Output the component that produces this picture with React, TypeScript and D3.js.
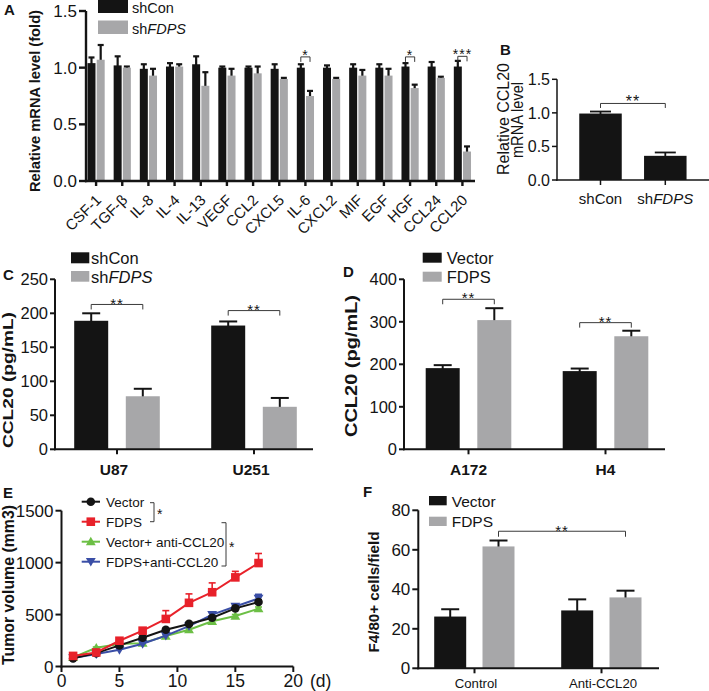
import React from 'react';
import * as d3 from 'd3';

const W = 709;
const H = 691;
const FONT = "'Liberation Sans', Arial, Helvetica, sans-serif";
const BLACK = '#141414';
const GRAY = '#a7a7a9';
const RED = '#e8212a';
const GREEN = '#6cbf45';
const BLUE = '#3a4ea6';
const LINE = '#3a3a3a';

// ---------- Panel A ----------
const aCategories = ['CSF-1', 'TGF-β', 'IL-8', 'IL-4', 'IL-13', 'VEGF', 'CCL2', 'CXCL5', 'IL-6', 'CXCL2', 'MIF', 'EGF', 'HGF', 'CCL24', 'CCL20'];
const aShCon = [1.04, 1.02, 0.99, 1.01, 1.03, 1.0, 1.0, 0.99, 1.0, 1.0, 1.0, 1.0, 1.01, 1.01, 1.01];
const aShConErr = [0.05, 0.08, 0.04, 0.03, 0.07, 0.01, 0.01, 0.04, 0.03, 0.02, 0.03, 0.03, 0.03, 0.04, 0.05];
const aShFDPS = [1.07, 1.0, 0.93, 1.01, 0.84, 0.93, 0.95, 0.9, 0.75, 0.9, 0.93, 0.93, 0.82, 0.91, 0.26];
const aShFDPSErr = [0.13, 0.01, 0.06, 0.02, 0.12, 0.06, 0.06, 0.01, 0.045, 0.01, 0.05, 0.06, 0.03, 0.01, 0.045];
const aTicks = [0, 0.5, 1.0, 1.5];
const aSignif = [
  { cat: 'IL-6', level: 1.095, label: '*' },
  { cat: 'HGF', level: 1.095, label: '*' },
  { cat: 'CCL20', level: 1.1, label: '***' },
];

// ---------- Panel B ----------
const bCategories = ['shCon', 'shFDPS'];
const bValues = [0.99, 0.36];
const bErrors = [0.03, 0.05];
const bTicks = [0, 0.5, 1.0, 1.5];
const bSignifLevel = 1.14;

// ---------- Panel C ----------
const cCategories = ['U87', 'U251'];
const cShCon = [189, 182];
const cShConErr = [11, 6];
const cShFDPS = [78, 62.5];
const cShFDPSErr = [11, 13];
const cTicks = [0, 50, 100, 150, 200, 250];
const cSignifLevels = [213, 204];

// ---------- Panel D ----------
const dCategories = ['A172', 'H4'];
const dVector = [191, 184];
const dVectorErr = [7, 6];
const dFDPS = [304, 266];
const dFDPSErr = [28, 13];
const dTicks = [0, 100, 200, 300, 400];
const dSignifLevels = [353, 298];

// ---------- Panel E ----------
const eDays = [1, 3, 5, 7, 9, 11, 13, 15, 17];
const eVector = [78, 129, 203, 277, 354, 410, 470, 560, 621];
const eVectorErr = [6, 8, 10, 12, 14, 15, 16, 18, 22];
const eFDPS = [102, 135, 248, 345, 458, 613, 715, 858, 996];
const eFDPSErr = [10, 12, 15, 20, 80, 86, 90, 58, 92];
const eVecAnti = [88, 180, 216, 225, 293, 354, 435, 486, 557];
const eVecAntiErr = [6, 8, 8, 10, 12, 12, 14, 15, 16];
const eFDPSAnti = [82, 120, 161, 219, 297, 389, 500, 578, 655];
const eFDPSAntiErr = [6, 8, 10, 10, 12, 14, 18, 20, 40];
const eXTicks = [0, 5, 10, 15, 20];
const eYTicks = [0, 500, 1000, 1500];
const eLegend = ['Vector', 'FDPS', 'Vector+ anti-CCL20', 'FDPS+anti-CCL20'];

// ---------- Panel F ----------
const fCategories = ['Control', 'Anti-CCL20'];
const fVector = [26.2, 29.3];
const fVectorErr = [3.7, 5.6];
const fFDPS = [61.7, 35.9];
const fFDPSErr = [3, 3.4];
const fTicks = [0, 20, 40, 60, 80];
const fSignifLevel = 69.4;

type Lin = d3.ScaleLinear<number, number>;

function YAxis({ y, ticks, x, fs, fmt, tickLen = 6, sw = 2 }: { y: Lin; ticks: number[]; x: number; fs: number; fmt: (v: number) => string; tickLen?: number; sw?: number }) {
  const [d0, d1] = y.domain();
  return (
    <g>
      <line x1={x} x2={x} y1={y(d0) + sw / 2} y2={y(d1)} stroke={BLACK} strokeWidth={sw} />
      {ticks.map((t) => (
        <g key={t}>
          <line x1={x - tickLen} x2={x} y1={y(t)} y2={y(t)} stroke={BLACK} strokeWidth={sw} />
          <text x={x - tickLen - 2} y={y(t)} dy="0.36em" textAnchor="end" fontSize={fs} fill={BLACK}>
            {fmt(t)}
          </text>
        </g>
      ))}
    </g>
  );
}

function XBase({ x0, x1, y0, ticks, tickLen = 5, sw = 2 }: { x0: number; x1: number; y0: number; ticks: number[]; tickLen?: number; sw?: number }) {
  return (
    <g>
      <line x1={x0} x2={x1} y1={y0} y2={y0} stroke={BLACK} strokeWidth={sw} />
      {ticks.map((t, i) => (
        <line key={i} x1={t} x2={t} y1={y0} y2={y0 + tickLen} stroke={BLACK} strokeWidth={sw} />
      ))}
    </g>
  );
}

type Series = { values: number[]; errs: number[]; fill: string; offset: number };

function Bars({ cats, xPos, y, series, barW, capW, sw = 2 }: { cats: string[]; xPos: (c: string) => number; y: Lin; series: Series[]; barW: number; capW: number; sw?: number }) {
  const base = y(0);
  return (
    <g>
      {cats.map((c, i) =>
        series.map((s, j) => {
          const cx = xPos(c) + s.offset;
          const top = y(s.values[i]);
          const et = y(s.values[i] + s.errs[i]);
          return (
            <g key={c + j}>
              <line x1={cx} x2={cx} y1={top + 2} y2={et} stroke={BLACK} strokeWidth={sw} />
              <line x1={cx - capW / 2} x2={cx + capW / 2} y1={et} y2={et} stroke={BLACK} strokeWidth={sw} />
              <rect x={cx - barW / 2} y={top} width={barW} height={base - top} fill={s.fill} />
            </g>
          );
        })
      )}
    </g>
  );
}

function Bracket({ x1, x2, y, drop, label, fs, gap = 4.5, sw = 1 }: { x1: number; x2: number; y: number; drop: number; label: string; fs: number; gap?: number; sw?: number }) {
  return (
    <g>
      <path d={`M${x1},${y + drop}V${y}H${x2}V${y + drop}`} fill="none" stroke={LINE} strokeWidth={sw} />
      <text x={(x1 + x2) / 2} y={y - gap + 0.57 * fs} textAnchor="middle" fontSize={fs} fill={BLACK} letterSpacing={1}>
        {label}
      </text>
    </g>
  );
}

function RotLabel({ x, y, text, fs, len, bold = true }: { x: number; y: number; text: string; fs: number; len: number; bold?: boolean }) {
  return (
    <text
      transform={`translate(${x},${y}) rotate(-90)`}
      textAnchor="middle"
      fontSize={fs}
      fontWeight={bold ? 'bold' : 'normal'}
      textLength={len}
      lengthAdjust="spacingAndGlyphs"
      fill={BLACK}
    >
      {text}
    </text>
  );
}

function PanelLetter({ x, y, t }: { x: number; y: number; t: string }) {
  return (
    <text x={x} y={y} fontSize={15} fontWeight="bold" fill={BLACK}>
      {t}
    </text>
  );
}

function FDPSItalic({ prefix = 'sh' }: { prefix?: string }) {
  return (
    <>
      {prefix}
      <tspan fontStyle="italic">FDPS</tspan>
    </>
  );
}

export default function App() {
  // ---- A scales
  const ax = d3.scalePoint<string>().domain(aCategories).range([83, 475.5]).padding(0.5);
  const ay = d3.scaleLinear().domain([0, 1.5]).range([181, 11]);
  const axPos = (c: string) => ax(c) as number;

  // ---- B scales
  const bx = d3.scalePoint<string>().domain(bCategories).range([600.5, 665.3]);
  const by = d3.scaleLinear().domain([0, 1.5]).range([180, 79.3]);
  const bxPos = (c: string) => bx(c) as number;

  // ---- C scales
  const cx = d3.scalePoint<string>().domain(cCategories).range([117, 254]);
  const cy = d3.scaleLinear().domain([0, 250]).range([449.3, 279.3]);
  const cxPos = (c: string) => cx(c) as number;

  // ---- D scales
  const dx = d3.scalePoint<string>().domain(dCategories).range([468.5, 605.5]);
  const dy = d3.scaleLinear().domain([0, 400]).range([449.3, 279.3]);
  const dxPos = (c: string) => dx(c) as number;

  // ---- E scales
  const ex = d3.scaleLinear().domain([0, 20]).range([61.5, 293.3]);
  const ey = d3.scaleLinear().domain([0, 1500]).range([666.5, 510.7]);
  const line = d3
    .line<number>()
    .x((_, i) => ex(eDays[i]))
    .y((d) => ey(d));
  const eSeries = [
    { name: eLegend[2], values: eVecAnti, errs: eVecAntiErr, color: GREEN, marker: 'tri' },
    { name: eLegend[3], values: eFDPSAnti, errs: eFDPSAntiErr, color: BLUE, marker: 'triDown' },
    { name: eLegend[0], values: eVector, errs: eVectorErr, color: BLACK, marker: 'circle' },
    { name: eLegend[1], values: eFDPS, errs: eFDPSErr, color: RED, marker: 'square' },
  ];
  const triPath = d3.symbol(d3.symbolTriangle, 42)() as string;
  const marker = (kind: string, x: number, y: number, color: string, key: string) => {
    if (kind === 'circle') return <circle key={key} cx={x} cy={y} r={4.3} fill={color} />;
    if (kind === 'square') return <rect key={key} x={x - 4.3} y={y - 4.3} width={8.6} height={8.6} fill={color} />;
    if (kind === 'tri') return <path key={key} d={triPath} transform={`translate(${x},${y + 0.8})`} fill={color} />;
    return <path key={key} d={triPath} transform={`translate(${x},${y - 0.8}) rotate(180)`} fill={color} />;
  };

  // ---- F scales
  const fx = d3.scalePoint<string>().domain(fCategories).range([474.5, 601.5]);
  const fy = d3.scaleLinear().domain([0, 80]).range([668.3, 510.3]);
  const fxPos = (c: string) => fx(c) as number;

  const fmt1 = d3.format('.1f');
  const fmt0 = d3.format('d');

  return (
    <svg
      width={W}
      height={H}
      viewBox={`0 0 ${W} ${H}`}
      style={{ position: 'absolute', left: 0, top: 0, background: '#fff' }}
      fontFamily={FONT}
    >
      <rect x={0} y={0} width={W} height={H} fill="#fff" />

      {/* ================= Panel A ================= */}
      <PanelLetter x={4} y={15} t="A" />
      <RotLabel x={40} y={101} text="Relative mRNA level (fold)" fs={14.5} len={182} />
      <Bars
        cats={aCategories}
        xPos={axPos}
        y={ay}
        barW={8}
        capW={6}
        sw={2.2}
        series={[
          { values: aShCon, errs: aShConErr, fill: BLACK, offset: -4.6 },
          { values: aShFDPS, errs: aShFDPSErr, fill: GRAY, offset: 4.6 },
        ]}
      />
      <YAxis y={ay} ticks={aTicks} x={86} fs={17} fmt={fmt1} sw={2.4} tickLen={7} />
      <XBase x0={85} x1={475} y0={181} ticks={aCategories.map(axPos)} sw={2.4} />
      {aCategories.map((c) => (
        <text key={c} transform={`translate(${axPos(c) + 6},${201}) rotate(-45)`} textAnchor="end" fontSize={15} fill={BLACK}>
          {c}
        </text>
      ))}
      {aSignif.map((s) => (
        <Bracket key={s.cat} x1={axPos(s.cat) - 4.6} x2={axPos(s.cat) + 4.6} y={ay(s.level)} drop={5} label={s.label} fs={14} gap={5} />
      ))}
      {/* legend A */}
      <rect x={98} y={-1} width={30} height={14} fill={BLACK} />
      <text x={132} y={12.5} fontSize={14.5} fill={BLACK}>shCon</text>
      <rect x={98} y={20.5} width={30} height={13.5} fill={GRAY} />
      <text x={132} y={33.5} fontSize={14.5} fill={BLACK}>
        <FDPSItalic />
      </text>

      {/* ================= Panel B ================= */}
      <PanelLetter x={500} y={55} t="B" />
      <g transform="translate(509,119) rotate(-90)">
        <text textAnchor="middle" fontSize={16} textLength={112} lengthAdjust="spacingAndGlyphs" fill={BLACK}>Relative CCL20</text>
      </g>
      <g transform="translate(523,120) rotate(-90)">
        <text textAnchor="middle" fontSize={16} textLength={76} lengthAdjust="spacingAndGlyphs" fill={BLACK}>mRNA level</text>
      </g>
      <Bars
        cats={bCategories}
        xPos={bxPos}
        y={by}
        barW={42.5}
        capW={21}
        sw={1.8}
        series={[{ values: bValues, errs: bErrors, fill: BLACK, offset: 0 }]}
      />
      <YAxis y={by} ticks={bTicks} x={557} fs={16} fmt={fmt1} sw={1.5} tickLen={5} />
      <XBase x0={556} x1={709} y0={180} ticks={bCategories.map(bxPos)} sw={1.5} />
      <text x={bxPos('shCon')} y={204} textAnchor="middle" fontSize={15} fill={BLACK}>shCon</text>
      <text x={bxPos('shFDPS')} y={204} textAnchor="middle" fontSize={15} fill={BLACK}>
        <FDPSItalic />
      </text>
      <Bracket x1={bxPos('shCon')} x2={bxPos('shFDPS')} y={by(bSignifLevel)} drop={4.5} label="**" fs={16} gap={5.5} />

      {/* ================= Panel C ================= */}
      <PanelLetter x={3} y={280} t="C" />
      <RotLabel x={12.5} y={380} text="CCL20 (pg/mL)" fs={15} len={136} />
      <Bars
        cats={cCategories}
        xPos={cxPos}
        y={cy}
        barW={34}
        capW={18}
        sw={2}
        series={[
          { values: cShCon, errs: cShConErr, fill: BLACK, offset: -25.8 },
          { values: cShFDPS, errs: cShFDPSErr, fill: GRAY, offset: 25.8 },
        ]}
      />
      <YAxis y={cy} ticks={cTicks} x={55} fs={16.5} fmt={fmt0} sw={2} tickLen={5} />
      <XBase x0={54} x1={313} y0={449.3} ticks={cCategories.map(cxPos)} sw={2} />
      {cCategories.map((c) => (
        <text key={c} x={cxPos(c) - 3} y={475} textAnchor="middle" fontSize={15.5} fontWeight="bold" fill={BLACK}>
          {c}
        </text>
      ))}
      {cCategories.map((c, i) => (
        <Bracket key={c} x1={cxPos(c) - 25.8} x2={cxPos(c) + 25.8} y={cy(cSignifLevels[i])} drop={5} label="**" fs={15} gap={4.5} />
      ))}
      <rect x={71} y={252.3} width={18.3} height={11} fill={BLACK} />
      <text x={91} y={263.5} fontSize={16.5} fill={BLACK}>shCon</text>
      <rect x={71} y={271} width={18.3} height={10.7} fill={GRAY} />
      <text x={91} y={282.5} fontSize={16.5} fill={BLACK}>
        <FDPSItalic />
      </text>

      {/* ================= Panel D ================= */}
      <PanelLetter x={343} y={277} t="D" />
      <RotLabel x={357} y={366} text="CCL20 (pg/mL)" fs={16} len={142} />
      <Bars
        cats={dCategories}
        xPos={dxPos}
        y={dy}
        barW={34}
        capW={18}
        sw={2}
        series={[
          { values: dVector, errs: dVectorErr, fill: BLACK, offset: -25.8 },
          { values: dFDPS, errs: dFDPSErr, fill: GRAY, offset: 25.8 },
        ]}
      />
      <YAxis y={dy} ticks={dTicks} x={404} fs={16.5} fmt={fmt0} sw={2} tickLen={5} />
      <XBase x0={403} x1={665} y0={449.3} ticks={dCategories.map(dxPos)} sw={2} />
      {dCategories.map((c) => (
        <text key={c} x={dxPos(c)} y={475} textAnchor="middle" fontSize={15.5} fontWeight="bold" fill={BLACK}>
          {c}
        </text>
      ))}
      {dCategories.map((c, i) => (
        <Bracket key={c} x1={dxPos(c) - 25.8} x2={dxPos(c) + 25.8} y={dy(dSignifLevels[i])} drop={5} label="**" fs={15} gap={4.5} />
      ))}
      <rect x={422.7} y={252.7} width={19} height={10} fill={BLACK} />
      <text x={446.7} y={263.5} fontSize={16.5} fill={BLACK}>Vector</text>
      <rect x={422.7} y={271.7} width={19} height={10} fill={GRAY} />
      <text x={446.7} y={283} fontSize={16.5} fill={BLACK}>FDPS</text>

      {/* ================= Panel E ================= */}
      <PanelLetter x={3} y={498} t="E" />
      <RotLabel x={14} y={585} text="Tumor volume (mm3)" fs={16} len={160} />
      {eSeries.map((s) => (
        <g key={s.name}>
          {s.values.map((v, i) => {
            const px = ex(eDays[i]);
            const top = ey(v + s.errs[i]);
            return (
              <g key={i}>
                <line x1={px} x2={px} y1={ey(v)} y2={top} stroke={s.color} strokeWidth={1.6} />
                <line x1={px - 3.5} x2={px + 3.5} y1={top} y2={top} stroke={s.color} strokeWidth={1.6} />
              </g>
            );
          })}
          <path d={line(s.values) as string} fill="none" stroke={s.color} strokeWidth={2} />
          {s.values.map((v, i) => marker(s.marker, ex(eDays[i]), ey(v), s.color, s.name + i))}
        </g>
      ))}
      <YAxis y={ey} ticks={eYTicks} x={61.5} fs={17} fmt={fmt0} sw={2} tickLen={6} />
      <g>
        <line x1={60.5} x2={293.3} y1={666.5} y2={666.5} stroke={BLACK} strokeWidth={2} />
        {eXTicks.map((t) => (
          <g key={t}>
            <line x1={ex(t)} x2={ex(t)} y1={666.5} y2={672} stroke={BLACK} strokeWidth={2} />
            <text x={ex(t)} y={687} textAnchor="middle" fontSize={17.5} fill={BLACK}>
              {t}
            </text>
          </g>
        ))}
        <text x={310} y={687} fontSize={17.5} fill={BLACK}>(d)</text>
      </g>
      {/* legend E */}
      {[eSeries[2], eSeries[3], eSeries[0], eSeries[1]].map((s, i) => {
        const ly = 501.7 + i * 20;
        return (
          <g key={s.name}>
            <line x1={81.7} x2={100} y1={ly} y2={ly} stroke={s.color} strokeWidth={2} />
            {marker(s.marker, 90.8, ly, s.color, 'lg' + i)}
            <text x={106} y={ly} dy="0.36em" fontSize={13.5} fill={BLACK}>
              {s.name}
            </text>
          </g>
        );
      })}
      <path d="M150,502.7H154V521.7H150" fill="none" stroke={LINE} strokeWidth={1} />
      <text x={157} y={519} fontSize={14} fill={BLACK}>*</text>
      <path d="M221.5,522.7H226V566H221.5" fill="none" stroke={LINE} strokeWidth={1} />
      <text x={229} y={552} fontSize={14} fill={BLACK}>*</text>

      {/* ================= Panel F ================= */}
      <PanelLetter x={363} y={497} t="F" />
      <RotLabel x={379} y={592} text="F4/80+ cells/field" fs={15.5} len={121} />
      <Bars
        cats={fCategories}
        xPos={fxPos}
        y={fy}
        barW={32}
        capW={18}
        sw={2}
        series={[
          { values: fVector, errs: fVectorErr, fill: BLACK, offset: -24.3 },
          { values: fFDPS, errs: fFDPSErr, fill: GRAY, offset: 24 },
        ]}
      />
      <YAxis y={fy} ticks={fTicks} x={418.3} fs={17} fmt={fmt0} sw={2} tickLen={6} />
      <XBase x0={417.3} x1={659} y0={668.3} ticks={fCategories.map(fxPos)} sw={2} />
      {fCategories.map((c) => (
        <text key={c} x={fxPos(c) + 1.5} y={688} textAnchor="middle" fontSize={13.2} fill={BLACK}>
          {c}
        </text>
      ))}
      <Bracket x1={fxPos('Control') + 24} x2={fxPos('Anti-CCL20') + 24} y={fy(fSignifLevel)} drop={5.5} label="**" fs={15} gap={4} />
      <rect x={429} y={496} width={17.7} height={9.3} fill={BLACK} />
      <text x={451.7} y={506.5} fontSize={15.5} fill={BLACK}>Vector</text>
      <rect x={429} y={516.7} width={17.7} height={9.3} fill={GRAY} />
      <text x={451.7} y={527} fontSize={15.5} fill={BLACK}>FDPS</text>
    </svg>
  );
}
